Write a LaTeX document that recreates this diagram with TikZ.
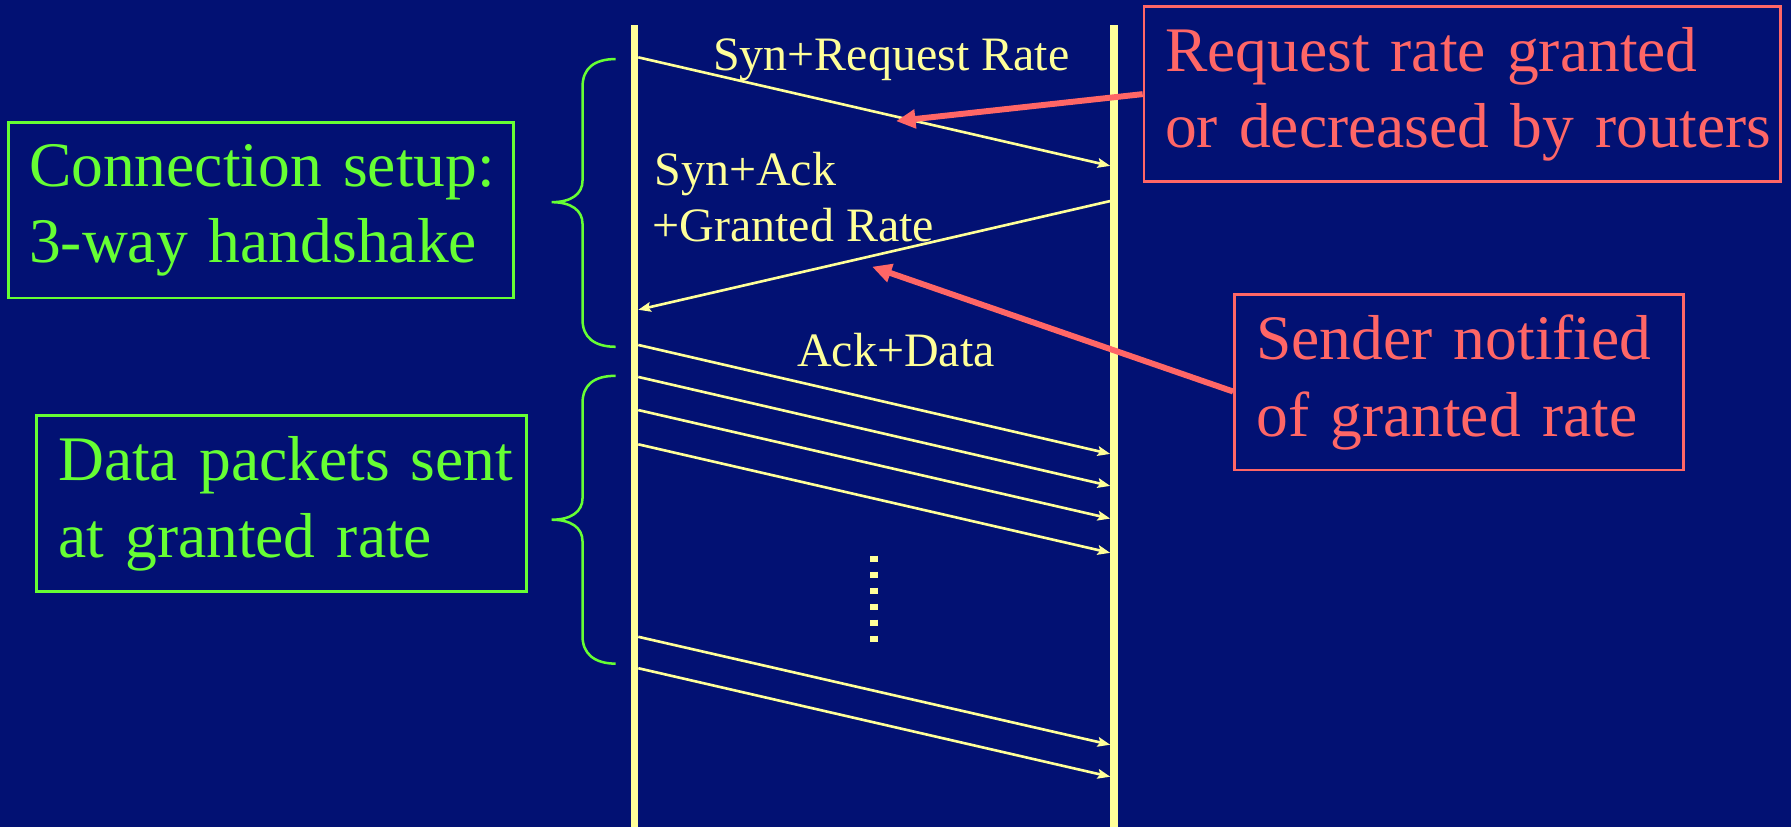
\documentclass[tikz,border=0pt]{standalone}
\usepackage{fontspec}
\setmainfont{Liberation Serif}
\newfontfamily\notefont{Liberation Serif}[WordSpace=0.7]
\usetikzlibrary{arrows.meta}

\definecolor{slidebg}{RGB}{2,17,115}
\definecolor{paleyellow}{RGB}{255,255,153}
\definecolor{notegreen}{RGB}{102,255,51}
\definecolor{notered}{RGB}{255,102,102}

\tikzset{
  lifeline/.style={draw=paleyellow, line width=3.4pt},
  message/.style={draw=paleyellow, line width=1.15pt,
    -{Stealth[length=5.5pt, width=4.2pt, inset=1pt]}},
  msglabel/.style={text=paleyellow, inner sep=0pt,
    font=\fontsize{21}{25}\selectfont},
  notebox/.style={rectangle, line width=1.2pt, align=left,
    inner ysep=0pt, font=\notefont\fontsize{27.8}{33.4}\selectfont},
  greenbox/.style={notebox, draw=notegreen, text=notegreen},
  redbox/.style={notebox, draw=notered, text=notered},
  pointer/.style={draw=notered, line width=2.6pt,
    -{Triangle[length=8.5pt, width=8pt]}},
  curlybrace/.style={draw=notegreen, line width=1.1pt},
  ellipsis/.style={draw=paleyellow, line width=3.3pt,
    dash pattern=on 2.9pt off 4.1pt}
}

\begin{document}
\begin{tikzpicture}[x=0.5pt, y=-0.5pt]
  % background
  \fill[slidebg] (0,0) rectangle (1568,724);
  \useasboundingbox (0,0) rectangle (1568,724);

  % the two end hosts' time lines
  \coordinate (ltop) at (555.5,22.2);
  \coordinate (lbot) at (555.5,724);
  \coordinate (rtop) at (975.4,22.2);
  \coordinate (rbot) at (975.4,724);
  \draw[lifeline] (ltop) -- (lbot);
  \draw[lifeline] (rtop) -- (rbot);

  % message end points
  \coordinate (s1) at (558.8,50.2);  \coordinate (e1) at (972,145.2);
  \coordinate (s2) at (972,176);     \coordinate (e2) at (558.8,271.2);
  \coordinate (s3) at (558.8,302);   \coordinate (e3) at (972,397.4);
  \coordinate (d1s) at (558.8,330);  \coordinate (d1e) at (972,425.4);
  \coordinate (d2s) at (558.8,359);  \coordinate (d2e) at (972,454);
  \coordinate (d3s) at (558.8,389);  \coordinate (d3e) at (972,484);
  \coordinate (d4s) at (558.8,557.5);\coordinate (d4e) at (972,652);
  \coordinate (d5s) at (558.8,585);  \coordinate (d5e) at (972,680);

  % handshake and data messages
  \draw[message] (s1) -- (e1);
  \draw[message] (s2) -- (e2);
  \draw[message] (s3) -- (e3);
  \draw[message] (d1s) -- (d1e);
  \draw[message] (d2s) -- (d2e);
  \draw[message] (d3s) -- (d3e);
  \draw[message] (d4s) -- (d4e);
  \draw[message] (d5s) -- (d5e);

  % message labels
  \node[msglabel, anchor=base west] (lsyn) at (624,61.3) {Syn+Request Rate};
  \node[msglabel, anchor=base west] (lsynack) at (572.6,162) {Syn+Ack};
  \node[msglabel, anchor=base west] (lgranted) at (571,211.6) {+Granted Rate};
  \node[msglabel, anchor=base west] (lackdata) at (697.5,321) {Ack+Data};

  % more data packets in between
  \coordinate (dtop) at (765,486.5);
  \coordinate (dbot) at (765,563);
  \draw[ellipsis] (dtop) -- (dbot);

  % left-hand notes
  \node[greenbox, text width=203pt, inner xsep=9pt, minimum height=77pt]
    (setup) at (228.5,184) {\mbox{Connection setup:}\\\mbox{3-way handshake}};
  \node[greenbox, text width=195.5pt, inner xsep=9.5pt, minimum height=77pt]
    (datanote) at (246.5,441) {\mbox{Data packets sent}\\\mbox{at granted rate}};

  % braces grouping the phases
  \draw[curlybrace] (539,51.7) .. controls (520,51.7) and (510,60) .. (510,76)
    -- (510,158) .. controls (510,170) and (500,177) .. (483,177)
    .. controls (500,177) and (510,184) .. (510,196)
    -- (510,280) .. controls (510,295) and (520,303.6) .. (539,303.6);
  \draw[curlybrace] (539,329) .. controls (520,329) and (510,337) .. (510,353)
    -- (510,436) .. controls (510,448) and (500,455) .. (483,455)
    .. controls (500,455) and (510,462) .. (510,474)
    -- (510,557) .. controls (510,572) and (520,581) .. (539,581);

  % right-hand notes
  \node[redbox, text width=260.3pt, inner xsep=9.2pt, minimum height=76.6pt]
    (routers) at (1280.3,82.4) {\mbox{Request rate granted}\\\mbox{or decreased by routers}};
  \node[redbox, text width=177.4pt, inner xsep=9.6pt, minimum height=76.7pt]
    (sender) at (1277.35,334.75) {\mbox{Sender notified}\\\mbox{of granted rate}};

  % pointers from the notes to the messages
  \coordinate (t1) at (784.5,106);
  \coordinate (t2) at (763.5,233.5);
  \draw[pointer] (routers.west) -- (t1);
  \draw[pointer] ([yshift=-4pt]sender.west) -- (t2);
\end{tikzpicture}
\end{document}
